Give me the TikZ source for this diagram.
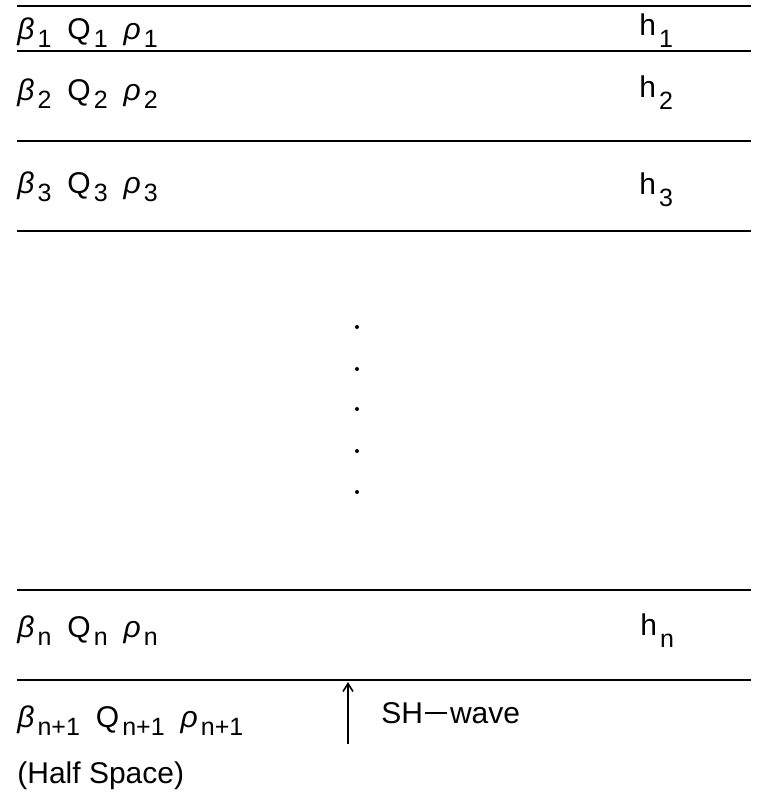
\documentclass[tikz,border=0pt]{standalone}
\usepackage{fontspec}
\setmainfont{Liberation Sans}
\usepackage{tikz}
\usetikzlibrary{arrows.meta,calc,positioning}
\newcommand{\lsub}[2][4pt]{\kern1.5pt\raisebox{-#1}{\fontsize{12.5}{13}\selectfont #2}}
\newcommand{\grk}[1]{{\itshape #1}}
\newcommand{\gap}{\hspace{8pt}}
\tikzset{
  layer/.style={line width=1.1pt},
  prop/.style={anchor=base west, inner sep=0pt, font=\fontsize{15}{17}\selectfont},
}
\begin{document}
\begin{tikzpicture}[x=0.5pt,y=-0.5pt]
            \useasboundingbox (0,0) rectangle (757,793);
            % Define points
            \coordinate (L0) at (17,6);   \coordinate (R0) at (751,6);
            \coordinate (L1) at (17,51);  \coordinate (R1) at (751,51);
            \coordinate (L2) at (17,141); \coordinate (R2) at (751,141);
            \coordinate (L3) at (17,231); \coordinate (R3) at (751,231);
            \coordinate (Lm) at (17,590); \coordinate (Rm) at (751,590);
            \coordinate (Ln) at (17,680); \coordinate (Rn) at (751,680);
            % Draw the interfaces
            \foreach \i in {0,1,2,3,m,n}
              \draw[layer] (L\i) -- (R\i);
            % Label the layers
            \node[prop] (p1) at (17,39) {\grk{β}\lsub{1}\gap Q\lsub{1}\gap\grk{ρ}\lsub{1}};
            \node[prop] (p2) at (17,100) {\grk{β}\lsub{2}\gap Q\lsub{2}\gap\grk{ρ}\lsub{2}};
            \node[prop] (p3) at (17,193) {\grk{β}\lsub{3}\gap Q\lsub{3}\gap\grk{ρ}\lsub{3}};
            \node[prop] (pn) at (17,637) {\grk{β}\lsub{n}\gap Q\lsub{n}\gap\grk{ρ}\lsub{n}};
            \node[prop] (pn1) at (17,727) {\grk{β}\lsub{n+1}\gap Q\lsub{n+1}\gap\grk{ρ}\lsub{n+1}};
            \node[prop] (hs) at (17,783) {(Half Space)};
            \node[prop] (h1) at (639,35) {h\lsub[6pt]{1}};
            \node[prop] (h2) at (639,97) {h\lsub[6pt]{2}};
            \node[prop] (h3) at (639,194) {h\lsub[6pt]{3}};
            \node[prop] (hn) at (640,635) {h\lsub[6pt]{n}};
            % Mark the missing layers
            \foreach \y in {327,369,409,451,492}
              \fill (357,\y) circle (2);
            % Incident wave
            \coordinate (W0) at (348,744);
            \coordinate (W1) at (348,682);
            \draw[line width=0.8pt,-{Straight Barb[length=4pt,width=5pt]}] (W0) -- (W1);
            \node[prop] (sh) at (381,723) {SH\kern1pt\rule[0.3em]{11pt}{0.9pt}\kern1.5pt wave};
          \end{tikzpicture}
\end{document}
